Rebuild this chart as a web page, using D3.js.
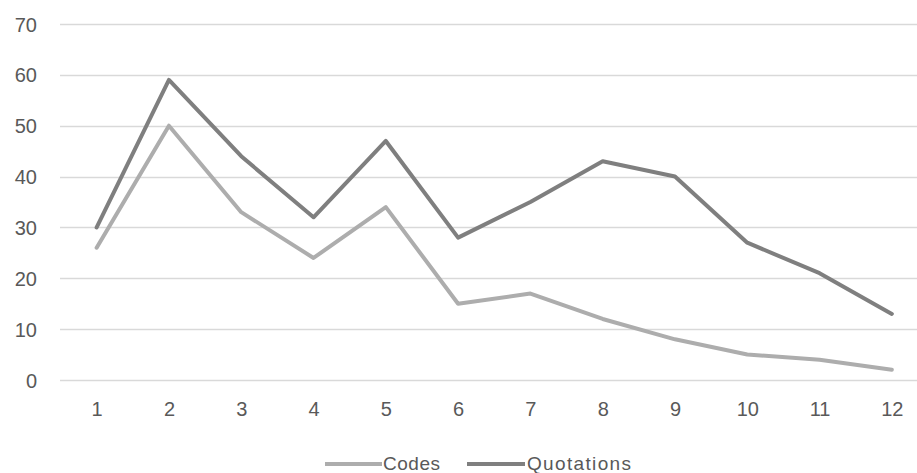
<!DOCTYPE html>
<html><head><meta charset="utf-8">
<script src="https://cdn.jsdelivr.net/npm/d3@7"></script>
<style>html,body{margin:0;padding:0;background:#fff;overflow:hidden}</style>
</head><body>
<svg id="chart" width="917" height="473"></svg>
<script>
const categories = ["1","2","3","4","5","6","7","8","9","10","11","12"];
const codes = [26,50,33,24,34,15,17,12,8,5,4,2];
const quotations = [30,59,44,32,47,28,35,43,40,27,21,13];
const yTicks = [0,10,20,30,40,50,60,70];
const seriesNames = ["Codes","Quotations"];
const colors = ["#adadad","#7f7f7f"];

const svg = d3.select("#chart");
const font = "'Liberation Sans', Arial, sans-serif";
const x = d3.scalePoint().domain(categories).range([60.5, 928]).padding(0.5);
const y = d3.scaleLinear().domain([0,70]).range([380, 24]);

// gridlines
svg.append("g").selectAll("line").data(yTicks).join("line")
  .attr("x1", 60).attr("x2", 917)
  .attr("y1", d => Math.round(y(d))+0.5).attr("y2", d => Math.round(y(d))+0.5)
  .attr("stroke", "#d9d9d9").attr("stroke-width", 1.3);

// y axis labels
const yAxis = d3.axisLeft(y).tickValues(yTicks).tickSize(0).tickPadding(0);
const gy = svg.append("g").attr("transform","translate(37,0)").call(yAxis);
gy.select(".domain").remove();
gy.selectAll("text").attr("font-family", font).attr("font-size", 20).attr("fill","#595959").attr("dy","0.35em");

// x axis labels
const xAxis = d3.axisBottom(x).tickSize(0).tickPadding(0);
const gx = svg.append("g").attr("transform","translate(0,402)").call(xAxis);
gx.select(".domain").remove();
gx.selectAll("text").attr("font-family", font).attr("font-size", 20).attr("fill","#595959").attr("dy","0.72em");

const line = d3.line().x((d,i) => x(categories[i])).y(d => y(d));
[codes, quotations].forEach((s,i) => {
  svg.append("path").datum(s).attr("d", line)
    .attr("fill","none").attr("stroke", colors[i]).attr("stroke-width", 4)
    .attr("stroke-linejoin","round").attr("stroke-linecap","round");
});

// legend
const legend = [{x1:325,x2:382,tx:383,w:57},{x1:467,x2:525,tx:527,w:104}];
legend.forEach((l,i) => {
  svg.append("line").attr("x1",l.x1).attr("x2",l.x2).attr("y1",464).attr("y2",464)
    .attr("stroke",colors[i]).attr("stroke-width",4);
  svg.append("text").attr("x",l.tx).attr("y",463).attr("dy","0.35em")
    .attr("font-family",font).attr("font-size",19).attr("fill","#595959")
    .attr("textLength", l.w).attr("lengthAdjust","spacing").text(seriesNames[i]);
});
</script>
</body></html>
